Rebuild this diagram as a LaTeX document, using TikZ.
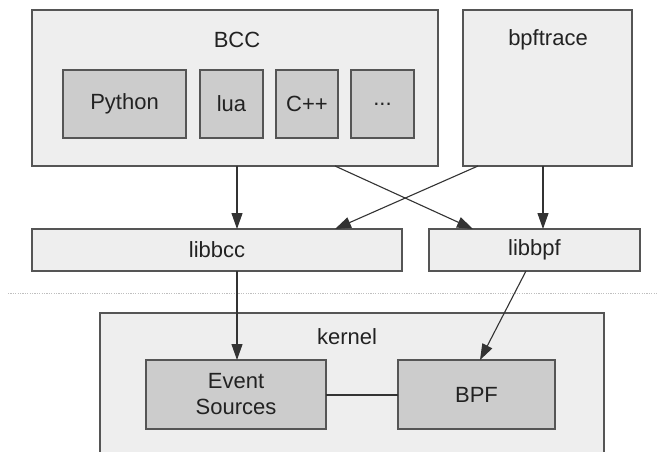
\documentclass[tikz,border=0pt]{standalone}
\usepackage{fontspec}
\setmainfont{Liberation Sans}
\usetikzlibrary{arrows.meta}
\definecolor{outerfill}{HTML}{EEEEEE}
\definecolor{innerfill}{HTML}{CCCCCC}
\definecolor{edgecol}{HTML}{555555}
\definecolor{textcol}{HTML}{222222}
\begin{document}
\begin{tikzpicture}[x=1pt,y=-1pt,
  outerbox/.style={draw=edgecol,line width=1.2pt,fill=outerfill},
  innerbox/.style={draw=edgecol,line width=1.2pt,fill=innerfill},
  lbl/.style={text=textcol,font=\fontsize{22}{26}\selectfont,align=center,inner sep=0pt},
  conn/.style={draw=black!80,line width=1.1pt,-{Triangle[length=16pt,width=11pt]}}]
\useasboundingbox (0,0) rectangle (657,452);
\fill[white] (0,0) rectangle (657,452);
% user-space tools
\draw[outerbox] (32,10) rectangle (438,166);
\coordinate (bccS) at (237,166);
\coordinate (bccX) at (335,166);
\node[lbl] (bcc) at (237,40) {BCC};
\draw[outerbox] (463,10) rectangle (632,166);
\coordinate (btS) at (543,166);
\coordinate (btX) at (478,166);
\node[lbl] (bpftrace) at (548,40) {bpftrace};
% front-end languages
\draw[innerbox] (63,70) rectangle (186,138);
\node[lbl] (python) at (124.5,104) {Python};
\draw[innerbox] (200,70) rectangle (263,138);
\node[lbl] (lua) at (231.5,104) {lua};
\draw[innerbox] (276,70) rectangle (338,138);
\node[lbl] (cpp) at (307,104) {C++};
\draw[innerbox] (351,70) rectangle (414,138);
\node[lbl] (more) at (382.5,104) {...};
% libraries
\draw[outerbox] (32,229) rectangle (402,271);
\node[lbl] (libbcc) at (217,250) {libbcc};
\coordinate (libbccN) at (237,229);
\coordinate (libbccNX) at (335,229);
\coordinate (libbccS) at (237,271);
\draw[outerbox] (429,229) rectangle (640,271);
\node[lbl] (libbpf) at (534.5,250) {libbpf};
\coordinate (libbpfN) at (543,229);
\coordinate (libbpfNX) at (473,229);
\coordinate (libbpfS) at (526,271);
% user / kernel boundary
\draw[black!25,line width=0.8pt,dash pattern=on 1.2pt off 1.2pt] (8,293) -- (657,293);
% kernel
\draw[outerbox] (100,313) rectangle (604,470);
\node[lbl] (kernel) at (347,337) {kernel};
\draw[innerbox] (146,360) rectangle (326,429);
\node[lbl] (events) at (236,394.5) {Event\\Sources};
\coordinate (evN) at (237,360);
\coordinate (evE) at (326,395);
\draw[innerbox] (398,360) rectangle (555,429);
\node[lbl] (bpf) at (476.5,394.5) {BPF};
\coordinate (bpfN) at (480,360);
\coordinate (bpfW) at (398,395);
% connectors
\draw[conn] (bccS) -- (libbccN);
\draw[conn] (bccX) -- (libbpfNX);
\draw[conn] (btX) -- (libbccNX);
\draw[conn] (btS) -- (libbpfN);
\draw[conn] (libbccS) -- (evN);
\draw[conn] (libbpfS) -- (bpfN);
\draw[draw=black!80,line width=1.1pt] (evE) -- (bpfW);
\end{tikzpicture}
\end{document}
